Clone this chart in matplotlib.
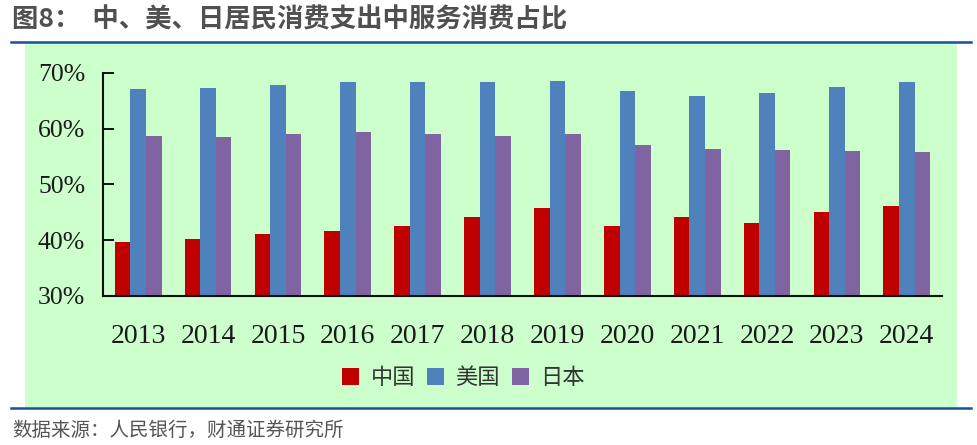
import matplotlib
matplotlib.use("Agg")
import matplotlib.pyplot as plt
from matplotlib.patches import Rectangle
from matplotlib.lines import Line2D
import numpy as np

years = ["2013", "2014", "2015", "2016", "2017", "2018", "2019", "2020", "2021", "2022", "2023", "2024"]
china = [39.6, 40.3, 41.1, 41.7, 42.6, 44.2, 45.8, 42.6, 44.1, 43.1, 45.1, 46.1]
usa = [67.1, 67.2, 67.8, 68.3, 68.3, 68.3, 68.6, 66.8, 65.9, 66.4, 67.4, 68.4]
japan = [58.7, 58.4, 59.0, 59.4, 59.0, 58.7, 59.1, 57.0, 56.3, 56.1, 56.0, 55.8]
series_names = ["中国", "美国", "日本"]
yticks = [30, 40, 50, 60, 70]

colors = ["#c00000", "#4f81bd", "#8064a2"]
W, H = 978, 445
plt.rcParams["font.family"] = ["Liberation Serif", "DejaVu Serif"]
fig = plt.figure(figsize=(W / 100, H / 100), dpi=100)

cjk = ["Noto Sans CJK SC", "DejaVu Sans"]

# green panel
fig.patches.append(Rectangle((25 / W, 1 - 408 / H), (957 - 25) / W, (408 - 42) / H,
                             transform=fig.transFigure, facecolor="#ccffcc",
                             edgecolor="none", zorder=-5))
# blue rules
for yy in (41.5, 408):
    fig.add_artist(Line2D([11 / W, 971 / W], [1 - yy / H, 1 - yy / H],
                          transform=fig.transFigure, color="#1a4f9c", lw=1.8))

ax = fig.add_axes([103.3 / W, 1 - 296 / H, (941.7 - 103.3) / W, (296 - 72.7) / H])
ax.set_facecolor("none")
ax.set_zorder(2)

x = np.arange(len(years))
bw = 0.223
for i, (vals, name) in enumerate(zip([china, usa, japan], series_names)):
    ax.bar(x + (i - 1) * bw, np.array(vals) - 30, bw, bottom=30, color=colors[i],
           label=name, zorder=2)

ax.set_xlim(-0.5, len(years) - 0.5)
ax.set_ylim(30, 70)
ax.set_yticks(yticks)
ax.set_yticklabels([f"{v}%" for v in yticks], fontsize=18.5, color="#1a1a1a")
ax.set_xticks(x)
ax.set_xticklabels(years, fontsize=20, color="#1a1a1a")
ax.tick_params(axis="y", direction="in", length=8, width=1.3, pad=13)
ax.tick_params(axis="x", length=0, pad=20)
for s in ("top", "right"):
    ax.spines[s].set_visible(False)
for s in ("left", "bottom"):
    ax.spines[s].set_linewidth(1.5)
    ax.spines[s].set_color("#111111")

handles, labels = ax.get_legend_handles_labels()
leg = fig.legend(handles, labels, loc="center", bbox_to_anchor=(463.5 / W, 1 - 378 / H),
                 ncol=3, frameon=False, prop={"family": cjk, "size": 16},
                 handlelength=0.77, handleheight=0.77, handletextpad=0.5,
                 columnspacing=0.55)
for t in leg.get_texts():
    t.set_color("#333333")

fig.text(12 / W, 1 - 20 / H, "图8：  中、美、日居民消费支出中服务消费占比", family=cjk,
         fontsize=19, fontweight="bold", color="#505050", ha="left", va="center")
fig.text(12 / W, 1 - 430 / H, "数据来源：人民银行，财通证券研究所", family=cjk,
         fontsize=14, color="#555555", ha="left", va="center")

fig.savefig("out.png", dpi=100)
